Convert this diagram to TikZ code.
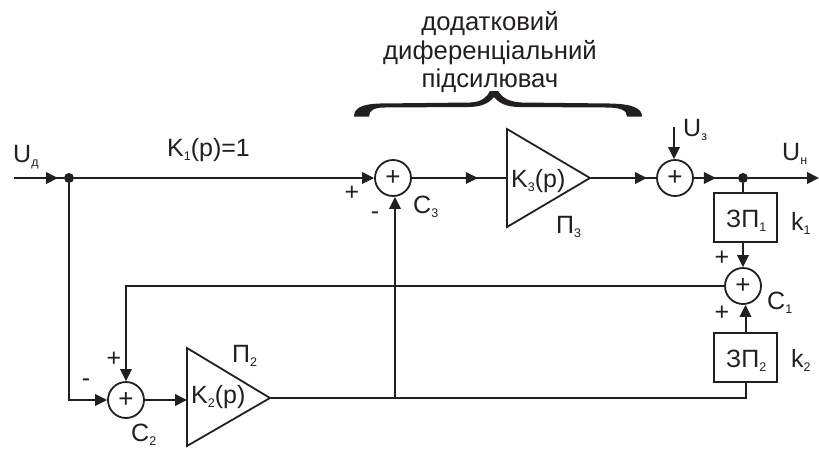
\documentclass[tikz,border=0pt]{standalone}
\usepackage{fontspec}
\setmainfont{Liberation Sans}
\usetikzlibrary{arrows.meta,decorations.markings,calc}
\definecolor{ink}{HTML}{231F20}
\newcommand{\fs}[1]{\fontsize{#1}{#1}\selectfont}
\newcommand{\sbs}[1]{\raisebox{-4pt}{\fs{12.5}#1}}
\tikzset{
  wedge/.tip={Triangle[length=12pt,width=11.5pt]},
  wire/.style={draw=ink,line width=2pt},
  arr/.style={wire,-{wedge}},
  marrow/.style={postaction={decorate,decoration={markings,mark=at position #1 with {\arrow[ink]{wedge}}}}},
  sumnode/.style={circle,draw=ink,line width=1.8pt,minimum size=36pt,inner sep=0pt,fill=white,text=ink,font=\fs{26}},
  blockbox/.style={rectangle,draw=ink,line width=1.8pt,inner sep=0pt,text=ink,font=\fs{25}},
  amp/.style={draw=ink,line width=1.8pt,line join=miter},
  lab/.style={anchor=base west,inner sep=0pt,text=ink,font=\fs{25}},
  mid/.style={anchor=center,inner sep=0pt,text=ink,font=\fs{25}},
  toptext/.style={anchor=base,inner sep=0pt,text=ink,font=\fs{25.7}},
  junction/.style={circle,fill=ink,inner sep=0pt,minimum size=10pt}
}
\begin{document}
\begin{tikzpicture}[x=1pt,y=-1pt]
\useasboundingbox (0,0) rectangle (819,448);
% coordinates
\coordinate (in) at (14,178);
\coordinate (out) at (819,178);
\coordinate (k3a) at (507,129);
\coordinate (k3b) at (507,227);
\coordinate (k3t) at (590,178);
\coordinate (k3l) at (507,178);
\coordinate (k2a) at (187,348);
\coordinate (k2b) at (187,446);
\coordinate (k2t) at (270,398);
\coordinate (k2l) at (187,400);
\coordinate (uz) at (674,127);
\coordinate (tap) at (395,398);
% nodes
\node[junction] (d1) at (69,178) {};
\node[junction] (d2) at (743,178) {};
\node[sumnode] (c3) at (393,178) {+};
\node[sumnode] (c4) at (675,178) {+};
\node[sumnode] (c1) at (743,286) {+};
\node[sumnode] (c2) at (126,400) {+};
\node[blockbox,minimum width=63pt,minimum height=49pt] (b1) at (745.5,217.5) {};
\node[blockbox,minimum width=63pt,minimum height=49pt] (b2) at (745.5,357.5) {};
% amplifiers
\draw[amp] (k3a) -- (k3t) -- (k3b) -- cycle;
\draw[amp] (k2a) -- (k2t) -- (k2b) -- cycle;
% connectors
\draw[wire,marrow=44pt] (in) -- (d1);
\draw[arr] (d1) -- (c3.west);
\draw[wire,marrow=66pt] (c3.east) -- (k3l);
\draw[wire,marrow=57pt] (k3t) -- (c4.west);
\draw[arr] (uz) -- (uz |- c4.north);
\draw[wire,marrow=22pt] (c4.east) -- (d2);
\draw[arr] (d2) -- (out);
\draw[wire] (d2) -- (d2 |- b1.north);
\draw[arr] (d2 |- b1.south) -- (c1.north);
\draw[arr] (b2.north) -- (b2.north |- c1.south);
\draw[wire] (k2t) -| (b2.south);
\draw[arr] (tap) -- (tap |- c3.south);
\draw[arr] (c1.west) -| (c2.north);
\draw[arr] (d1) |- (c2.west);
\draw[arr] (c2.east) -- (k2l);
% brace
\fill[ink] (354,116.5) .. controls (354,108) and (362,104) .. (380,103.5)
  -- (470,102.5) .. controls (482,102) and (487,97) .. (490,91) -- (498,91)
  .. controls (502,97) and (508,102) .. (522,102.5) -- (610,103.5)
  .. controls (632,104) and (642,108) .. (642,116.5) -- (627,116.5)
  .. controls (627,110) and (620,107.5) .. (606,107.5) -- (520,107)
  .. controls (506,107) and (499,103) .. (494,97) .. controls (489,103) and (482,107) .. (468,107)
  -- (384,107.5) .. controls (375,107.5) and (369,110) .. (369,116.5) -- cycle;
% labels
\node[toptext] (t1) at (490,30) {додатковий};
\node[toptext] (t2) at (490,59) {диференціальний};
\node[toptext] (t3) at (490,87) {підсилювач};
\node[lab] (ud) at (13,162) {U\sbs{д}};
\node[lab] (k1p) at (167,156) {K\sbs{1}(p)=1};
\node[mid] (p3p) at (352,193) {+};
\node[mid] (p3m) at (375,216) {-};
\node[lab] (lc3) at (413,213) {C\sbs{3}};
\node[lab] (lk3) at (511,187) {K\sbs{3}(p)};
\node[lab] (lp3) at (556,233) {П\sbs{3}};
\node[lab] (luz) at (683,136) {U\sbs{з}};
\node[lab] (lun) at (782,160) {U\sbs{н}};
\node[lab] (lb1) at (726,227) {ЗП\sbs{1}};
\node[lab] (lk1) at (791,230) {k\sbs{1}};
\node[mid] (p1a) at (722,258) {+};
\node[mid] (p1b) at (722,313) {+};
\node[lab] (lc1) at (767,309) {C\sbs{1}};
\node[lab] (lb2) at (726,367) {ЗП\sbs{2}};
\node[lab] (lk2) at (791,367) {k\sbs{2}};
\node[mid] (p2a) at (114,359) {+};
\node[mid] (p2m) at (86,383) {-};
\node[lab] (lc2) at (131,441) {C\sbs{2}};
\node[lab] (lp2) at (232,362) {П\sbs{2}};
\node[lab] (lk2p) at (191,403) {K\sbs{2}(p)};
\end{tikzpicture}
\end{document}
